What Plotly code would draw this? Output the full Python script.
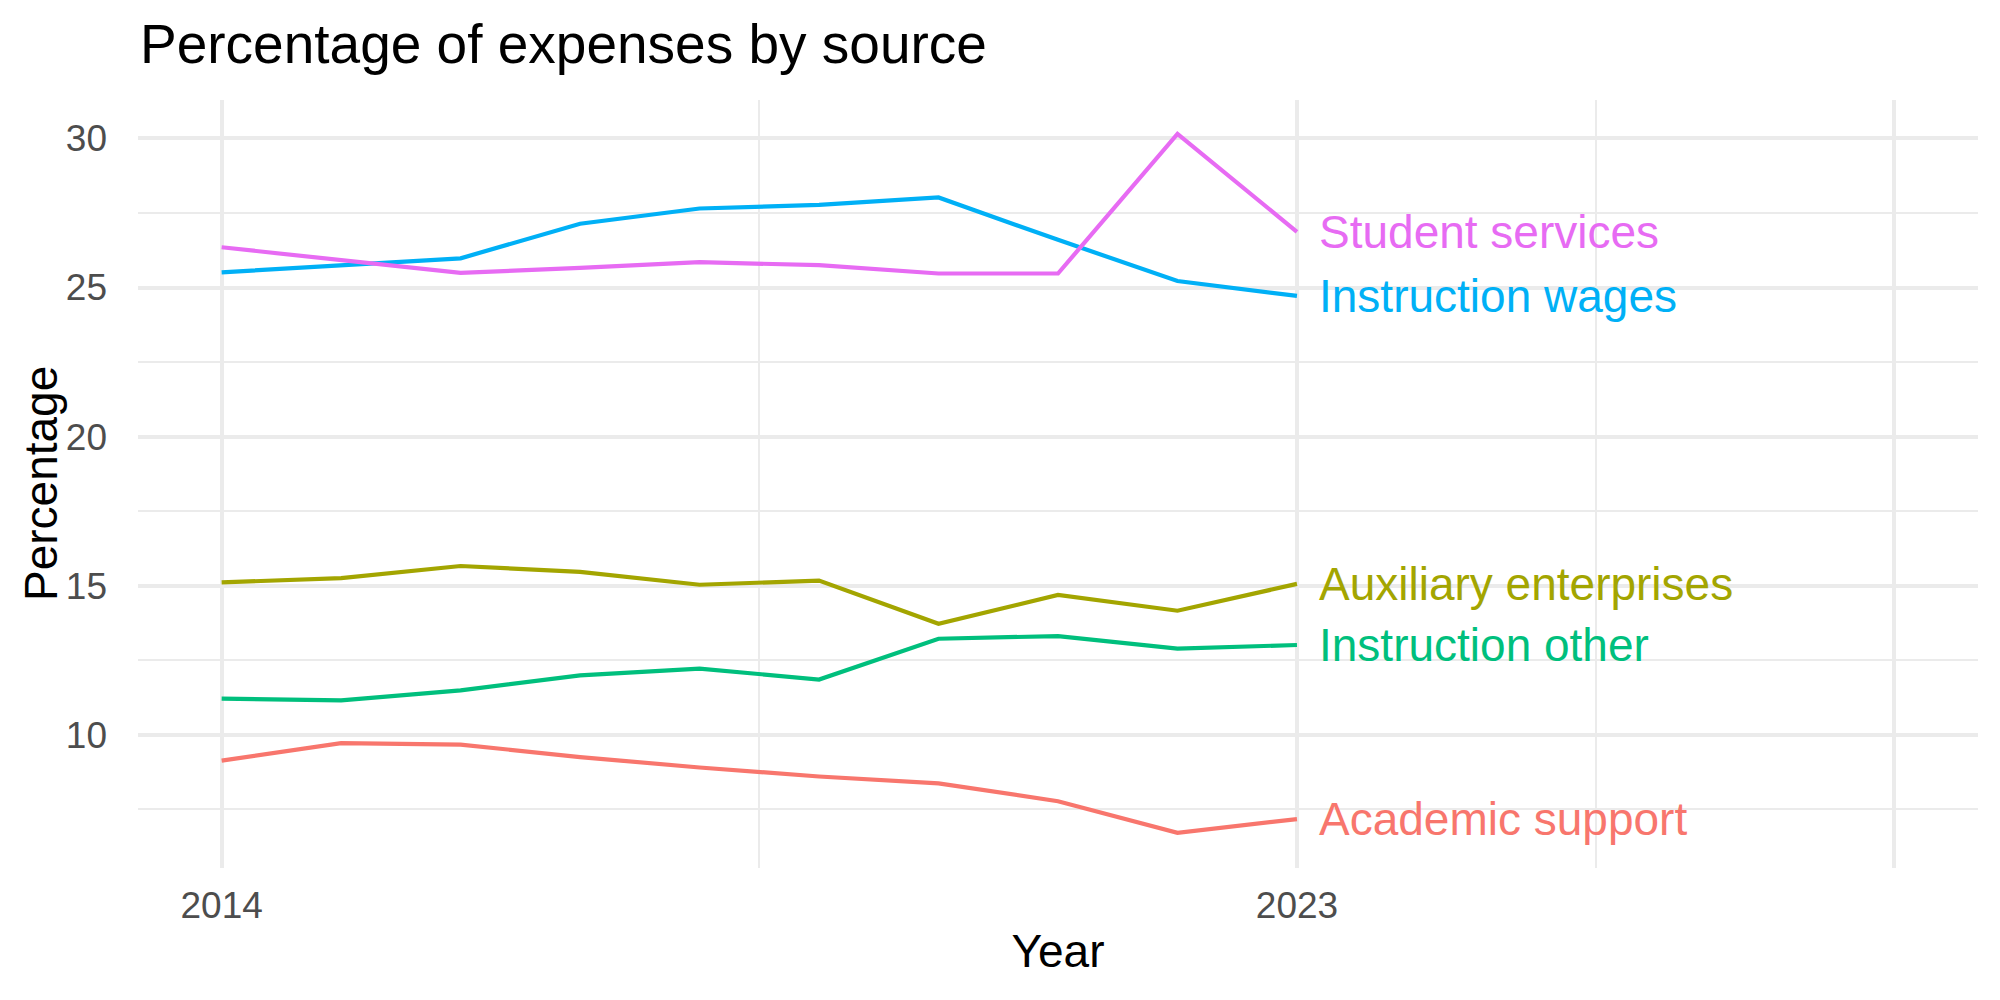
import plotly.graph_objects as go

years = [2014, 2015, 2016, 2017, 2018, 2019, 2020, 2021, 2022, 2023]

series_names = ["Academic support", "Auxiliary enterprises", "Instruction other",
                "Instruction wages", "Student services"]
academic_support = [9.13, 9.72, 9.67, 9.25, 8.90, 8.60, 8.37, 7.77, 6.71, 7.17]
auxiliary_enterprises = [15.11, 15.25, 15.66, 15.46, 15.03, 15.17, 13.72, 14.69, 14.16, 15.06]
instruction_other = [11.21, 11.15, 11.49, 11.99, 12.22, 11.85, 13.22, 13.31, 12.89, 13.01]
instruction_wages = [25.51, 25.75, 25.98, 27.14, 27.65, 27.77, 28.02, 26.60, 25.22, 24.72]
student_services = [26.35, 25.93, 25.49, 25.66, 25.85, 25.75, 25.47, 25.47, 30.15, 26.87]
colors = ["#F8766D", "#A3A500", "#00BF7D", "#00B0F6", "#E76BF3"]

x_tickvals = [2014, 2023, 2028]
x_ticktext = ["2014", "2023", ""]
x_minor = [2018.5, 2025.5]

FONT = "Liberation Sans, Arial, Helvetica, sans-serif"

values = [academic_support, auxiliary_enterprises, instruction_other,
          instruction_wages, student_services]

fig = go.Figure()
for name, vals, col in zip(series_names, values, colors):
    fig.add_trace(go.Scatter(x=years, y=vals, mode="lines", name=name,
                             line=dict(color=col, width=4.2), showlegend=False))
    fig.add_annotation(x=years[-1], y=vals[-1], text=name, showarrow=False,
                       xanchor="left", yanchor="middle", xshift=20,
                       font=dict(family=FONT, size=46, color=col))

# y-axis title placed as an annotation for precise positioning
fig.add_annotation(text="Percentage", xref="paper", yref="paper",
                   x=(41 - 138) / 1840, y=0.5, xanchor="center", yanchor="middle",
                   textangle=-90, showarrow=False,
                   font=dict(family=FONT, size=46, color="black"))

fig.update_layout(
    width=2000, height=1000,
    margin=dict(l=138, r=22, t=100, b=132),
    paper_bgcolor="white", plot_bgcolor="white",
    font=dict(family=FONT),
    title=dict(text="Percentage of expenses by source", x=0.07, xref="container",
               xanchor="left", y=0.956, yref="container", yanchor="middle",
               font=dict(family=FONT, size=55, color="black")),
)
fig.update_xaxes(
    range=[2013.3, 2028.7], tickvals=x_tickvals, ticktext=x_ticktext,
    showgrid=True, gridcolor="#EBEBEB", gridwidth=4.4, zeroline=False,
    showline=False, ticks="", ticklabelstandoff=12,
    tickfont=dict(family=FONT, size=37, color="#4D4D4D"),
    minor=dict(tickvals=x_minor, showgrid=True, gridcolor="#EBEBEB", gridwidth=2.2),
    title=dict(text="Year", font=dict(family=FONT, size=46, color="black"), standoff=9),
)
fig.update_yaxes(
    range=[5.53, 31.29], tickvals=[10, 15, 20, 25, 30],
    showgrid=True, gridcolor="#EBEBEB", gridwidth=4.4, zeroline=False,
    showline=False, ticks="", ticklabelstandoff=30,
    tickfont=dict(family=FONT, size=37, color="#4D4D4D"),
    minor=dict(tickvals=[7.5, 12.5, 17.5, 22.5, 27.5], showgrid=True,
               gridcolor="#EBEBEB", gridwidth=2.2),
)

fig.write_html("out.html")
